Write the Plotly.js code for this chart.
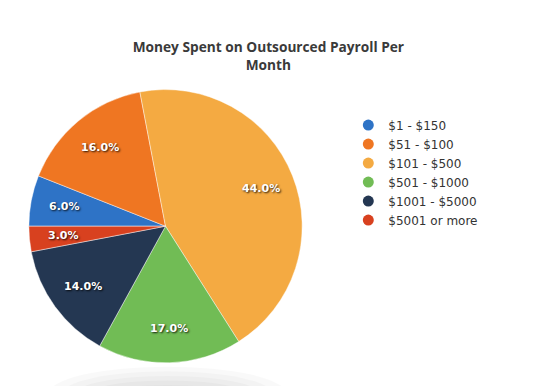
<!DOCTYPE html>
<html>
<head>
<meta charset="utf-8">
<script src="https://cdn.plot.ly/plotly-3.0.1.min.js"></script>
<style>html,body{margin:0;padding:0;background:#fff;}#chart{width:540px;height:386px;}</style>
</head>
<body>
<div id="chart"></div>
<script>
const categories = ["$1 - $150", "$51 - $100", "$101 - $500", "$501 - $1000", "$1001 - $5000", "$5001 or more"];
const shares = [6, 16, 44, 17, 14, 3];
const colors = ["#2e73c6", "#ef7622", "#f4aa42", "#71bc55", "#243752", "#d8411f"];
const chartTitle = "Money Spent on Outsourced Payroll Per<br>Month";

const W = 540, H = 386;
const pieDomain = {x: [0.05, 0.563], y: [0.06, 0.768]};
const startAngle = -90;

const pie = {
  type: "pie",
  labels: categories,
  values: shares,
  sort: false,
  direction: "clockwise",
  rotation: startAngle,
  marker: {colors: colors, line: {color: "rgba(255,255,255,0.55)", width: 0.8}},
  textinfo: "none",
  domain: pieDomain,
  showlegend: false,
  hoverinfo: "label+percent"
};

const legendTraces = categories.map((c, i) => ({
  type: "scatter", mode: "markers", x: [null], y: [null], name: c,
  marker: {symbol: "circle", size: 11, color: colors[i]},
  showlegend: true, hoverinfo: "skip"
}));

// data labels placed at 0.75 of the radius along each slice's mid-angle
const total = shares.reduce((a, b) => a + b, 0);
const cxPx = (pieDomain.x[0] + pieDomain.x[1]) / 2 * W;
const cyPx = (pieDomain.y[0] + pieDomain.y[1]) / 2 * H;
const Rpx = Math.min((pieDomain.x[1] - pieDomain.x[0]) * W, (pieDomain.y[1] - pieDomain.y[0]) * H) / 2;
let cum = 0;
const labelAnnotations = shares.map((v) => {
  const mid = (startAngle + 360 * (cum + v / 2) / total) * Math.PI / 180;
  cum += v;
  const r = 0.75 * Rpx;
  return {
    xref: "paper", yref: "paper",
    x: (cxPx + r * Math.sin(mid)) / W,
    y: (cyPx + r * Math.cos(mid)) / H,
    xanchor: "center", yanchor: "middle", showarrow: false,
    text: (100 * v / total).toFixed(1) + "%",
    font: {family: "DejaVu Sans", size: 11, color: "#ffffff", weight: "bold", shadow: "1px 1px 2px rgba(0,0,0,0.85)"}
  };
});

const shadowShapes = [0, 1, 2, 3, 4].map((k) => ({
  type: "circle", xref: "paper", yref: "paper",
  x0: 0.09 + k * 0.025, x1: 0.53 - k * 0.025,
  y0: -0.09 + k * 0.012, y1: 0.05 - k * 0.012,
  fillcolor: "rgba(0,0,0,0.022)", line: {width: 0}, layer: "below"
}));

const layout = {
  width: W, height: H,
  margin: {l: 0, r: 0, t: 0, b: 0},
  paper_bgcolor: "#ffffff", plot_bgcolor: "rgba(0,0,0,0)",
  title: {text: chartTitle, x: 0.497, xanchor: "center", y: 0.866, yanchor: "top",
    font: {family: "Open Sans", size: 13.7, color: "#3a3a3a", weight: "bold"}},
  xaxis: {visible: false}, yaxis: {visible: false},
  legend: {x: 0.645, xanchor: "left", y: 0.553, yanchor: "middle",
    font: {family: "DejaVu Sans", size: 12, color: "#333333"}, bgcolor: "rgba(0,0,0,0)", borderwidth: 0},
  annotations: labelAnnotations,
  shapes: shadowShapes
};

Plotly.newPlot("chart", legendTraces.concat([pie]), layout, {displayModeBar: false, staticPlot: true});
</script>
</body>
</html>
